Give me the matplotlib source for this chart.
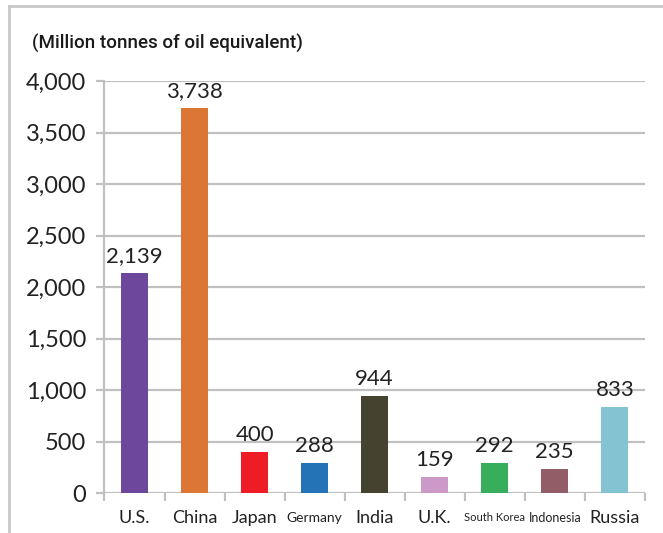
import numpy as np
from matplotlib import pyplot as plt
from matplotlib.lines import Line2D

countries = ['U.S.', 'China', 'Japan', 'Germany', 'India', 'U.K.', 'South Korea', 'Indonesia', 'Russia']
values = [2139, 3738, 400, 288, 944, 159, 292, 235, 833]
colors = ['#6C479B', '#DC7634', '#EE1C25', '#2373B6', '#45432F',
          '#CC99C8', '#38AE5C', '#935D68', '#84C3D2']
yticks = [0, 500, 1000, 1500, 2000, 2500, 3000, 3500, 4000]

plt.rcParams['font.family'] = ['Lato', 'DejaVu Sans']

fig = plt.figure(figsize=(6.63, 5.33), dpi=100)
ax = fig.add_axes([0.1576, 0.075, 0.815, 0.773])

x = np.arange(len(countries))
ax.bar(x, values, width=0.45, color=colors, zorder=3)

for xi, v in zip(x, values):
    ax.annotate(f'{v:,}', (xi, v), xytext=(0, 5), textcoords='offset points',
                ha='center', va='bottom', fontsize=16, color='#222222')

ax.set_xlim(-0.5, len(countries) - 0.5)
ax.set_ylim(0, 4000)
ax.set_yticks(yticks)
ax.set_yticklabels([f'{t:,}' for t in yticks], fontsize=17, color='#222222')
ax.yaxis.grid(True, color='#C0C0C0', linewidth=1.6, zorder=0)
ax.tick_params(axis='y', length=6, width=1.6, color='#C0C0C0', pad=7)

# category ticks at boundaries
ax.set_xticks(np.arange(len(countries) + 1) - 0.5)
ax.set_xticklabels([])
ax.tick_params(axis='x', length=6, width=1.6, color='#C0C0C0')
sizes = [13, 13, 13, 10, 13, 13, 8, 9, 13]
for xi, name, s in zip(x, countries, sizes):
    ax.text(xi, -0.06, name, transform=ax.get_xaxis_transform(),
            ha='center', va='center', fontsize=s, color='#222222')

for side in ['top', 'right', 'bottom']:
    ax.spines[side].set_visible(False)
ax.spines['left'].set_color('#C0C0C0')
ax.spines['left'].set_linewidth(1.6)

fig.text(0.048, 0.919, '(Million tonnes of oil equivalent)', fontsize=13.5,
         family=['Roboto', 'DejaVu Sans'], fontweight='medium',
         ha='left', va='center', color='#1a1a1a')

# outer frame
fig.add_artist(Line2D([0.0136, 1.0], [0.988, 0.988], color='#C8C8C8', linewidth=2))
fig.add_artist(Line2D([0.0136, 0.0136], [0.0, 0.988], color='#C8C8C8', linewidth=2))

fig.savefig('out.png', dpi=100)
plt.close()
